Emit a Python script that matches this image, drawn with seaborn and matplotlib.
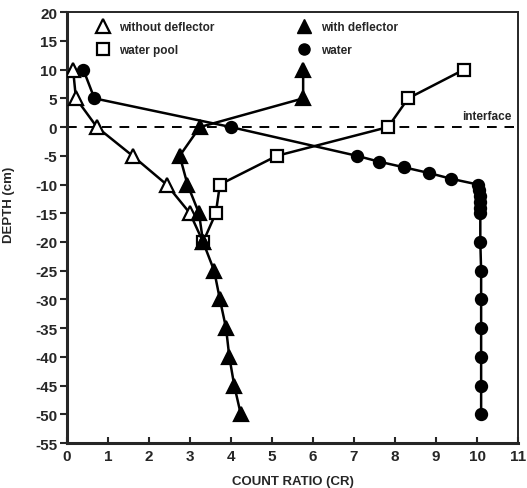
import matplotlib
matplotlib.use("Agg")
import matplotlib.pyplot as plt
import seaborn as sns
import pandas as pd
from matplotlib.lines import Line2D

# data (count ratio vs depth)
depth_wo = [10, 5, 0, -5, -10, -15, -20]
cr_wo = [0.15, 0.22, 0.73, 1.6, 2.43, 3.0, 3.32]

depth_with = [10, 5, 0, -5, -10, -15, -20, -25, -30, -35, -40, -45, -50]
cr_with = [5.76, 5.76, 3.24, 2.75, 2.94, 3.22, 3.32, 3.59, 3.73, 3.88, 3.96, 4.08, 4.24]

depth_pool = [10, 5, 0, -5, -10, -15, -20]
cr_pool = [9.68, 8.32, 7.83, 5.12, 3.73, 3.63, 3.32]

depth_water = [10, 5, 0, -5, -6, -7, -8, -9, -10, -11, -12, -13, -14, -15,
               -20, -25, -30, -35, -40, -45, -50]
cr_water = [0.4, 0.67, 4.0, 7.07, 7.6, 8.22, 8.83, 9.37, 10.02, 10.05, 10.07,
            10.08, 10.08, 10.08, 10.08, 10.1, 10.1, 10.1, 10.1, 10.1, 10.1]

x_ticks = list(range(12))
x_labels = ["0", "1", "2", "3", "4", "5", "6", "7", "8", "9", "10", "11"]
y_ticks = list(range(20, -56, -5))

sns.set_style("ticks")
plt.rcParams["font.family"] = ["Liberation Sans", "DejaVu Sans"]
plt.rcParams["font.weight"] = "bold"
plt.rcParams["axes.unicode_minus"] = False

fig = plt.figure(figsize=(5.27, 4.89), dpi=100)
ax = fig.add_axes([0.127, 0.092, 0.856, 0.881])

ax.axhline(0, xmin=0, xmax=0.99, color="black", lw=1.4, ls=(0, (5, 4)), zorder=1)

def draw(x, y, marker, face, ms):
    df = pd.DataFrame({"cr": x, "depth": y})
    sns.lineplot(data=df, x="cr", y="depth", sort=False, estimator=None,
                 color="black", lw=1.8, marker=marker, markersize=ms,
                 markerfacecolor=face, markeredgecolor="black",
                 markeredgewidth=1.6, ax=ax, zorder=3)

draw(cr_pool, depth_pool, "s", "white", 8.5)
draw(cr_wo, depth_wo, "^", "white", 10)
draw(cr_with, depth_with, "^", "black", 10)
draw(cr_water, depth_water, "o", "black", 8)

ax.set_xlim(0, 11)
ax.set_ylim(-55, 20)
ax.set_xticks(x_ticks)
ax.set_xticklabels(x_labels)
ax.set_yticks(y_ticks)
ax.tick_params(axis="x", direction="in", length=4, width=1.5, labelsize=11, pad=4)
ax.tick_params(axis="y", direction="out", length=5, width=1.5, labelsize=11, pad=2)
for lab in ax.get_xticklabels() + ax.get_yticklabels():
    lab.set_fontweight("bold")

for side in ["left", "bottom"]:
    ax.spines[side].set_linewidth(2.2)
for side in ["top", "right"]:
    ax.spines[side].set_linewidth(1.4)

ax.set_xlabel("COUNT RATIO (CR)", fontsize=9.5, fontweight="bold")
ax.set_ylabel("DEPTH (cm)", fontsize=9.5, fontweight="bold")
ax.xaxis.set_label_coords(0.5, -0.075)
ax.yaxis.set_label_coords(-0.115, 0.555)

ax.text(10.85, 0.8, "interface", ha="right", va="bottom", fontsize=8.5, fontweight="bold")

handles = [
    Line2D([], [], ls="none", marker="^", ms=10, mfc="white", mec="black", mew=1.6),
    Line2D([], [], ls="none", marker="s", ms=8.5, mfc="white", mec="black", mew=1.6),
    Line2D([], [], ls="none", marker="^", ms=10, mfc="black", mec="black"),
    Line2D([], [], ls="none", marker="o", ms=8, mfc="black", mec="black"),
]
labels = ["without deflector", "water pool", "with deflector", "water"]
ax.legend(handles, labels, ncol=2, loc="upper left", bbox_to_anchor=(0.04, 1.005),
          frameon=False, columnspacing=7.0, handletextpad=0.8, labelspacing=0.95,
          handlelength=1.2, prop={"size": 8.5, "weight": "bold"})

fig.savefig("out.png", dpi=100)
